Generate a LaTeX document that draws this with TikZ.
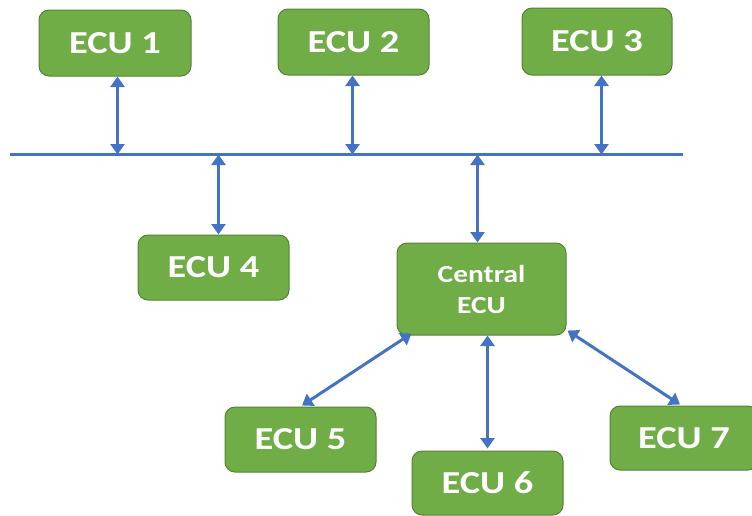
\documentclass[tikz,border=0pt]{standalone}
\usepackage{fontspec}
\newfontfamily\lbl{Carlito}[FakeStretch=1.2]
\usetikzlibrary{arrows.meta,calc}
\definecolor{ecufill}{HTML}{70AD47}
\definecolor{ecuedge}{HTML}{548235}
\definecolor{linkblue}{HTML}{4472C4}
\begin{document}
\begin{tikzpicture}[x=1pt,y=-1pt,
  ecu/.style={draw=ecuedge,line width=1pt,fill=ecufill,rounded corners=10pt,
    text=white,inner sep=0pt,font=\lbl\bfseries\fontsize{32}{38}\selectfont},
  link/.style={draw=linkblue,line width=3.8pt,
    {Triangle[length=10.5pt,width=14pt]}-{Triangle[length=10.5pt,width=14pt]}},
  busline/.style={draw=linkblue,line width=3pt}]
\useasboundingbox (0,0) rectangle (752,515);

% ECU boxes
\node[ecu,minimum width=152pt,minimum height=66pt] (e1) at (115,43) {ECU 1};
\node[ecu,minimum width=151pt,minimum height=66pt] (e2) at (353.5,42) {ECU 2};
\node[ecu,minimum width=150pt,minimum height=67pt] (e3) at (597,41.5) {ECU 3};
\node[ecu,minimum width=151pt,minimum height=65pt] (e4) at (213.5,267.5) {ECU 4};
\node[ecu,minimum width=169pt,minimum height=92pt,align=center,
      font=\lbl\bfseries\fontsize{24.5}{31}\selectfont] (ce) at (481.5,289) {Central\\ECU};
\node[ecu,minimum width=151pt,minimum height=65pt] (e5) at (300.5,439.5) {ECU 5};
\node[ecu,minimum width=151pt,minimum height=64pt] (e6) at (487.5,483) {ECU 6};
\node[ecu,minimum width=148pt,minimum height=64pt] (e7) at (684,438) {ECU 7};

% shared bus
\coordinate (busL) at (10,154.5);
\coordinate (busR) at (683,154.5);
\draw[busline] (busL) -- (busR);

% bus connections
\draw[link] ([xshift=2.5pt]e1.south) -- ([xshift=2.5pt]e1.south |- busL);
\draw[link] ([xshift=-1pt]e2.south) -- ([xshift=-1pt]e2.south |- busL);
\draw[link] ([xshift=4.5pt]e3.south) -- ([xshift=4.5pt]e3.south |- busL);
\draw[link] ([xshift=5pt]e4.north |- busL) -- ([xshift=5pt]e4.north);
\draw[link] ([xshift=-4pt]ce.north |- busL) -- ([xshift=-4pt]ce.north);

% central ECU connections
\draw[link,line width=3pt] ($(ce.south west)+(15,-2)$) -- ($(e5.north)+(1.5,-1)$);
\draw[link] (e6.north |- ce.south) -- ($(e6.north)+(0,-2)$);
\draw[link,line width=3pt] ($(ce.south east)+(1,-5)$) -- ($(e7.north)+(-4,-1)$);
\end{tikzpicture}
\end{document}
